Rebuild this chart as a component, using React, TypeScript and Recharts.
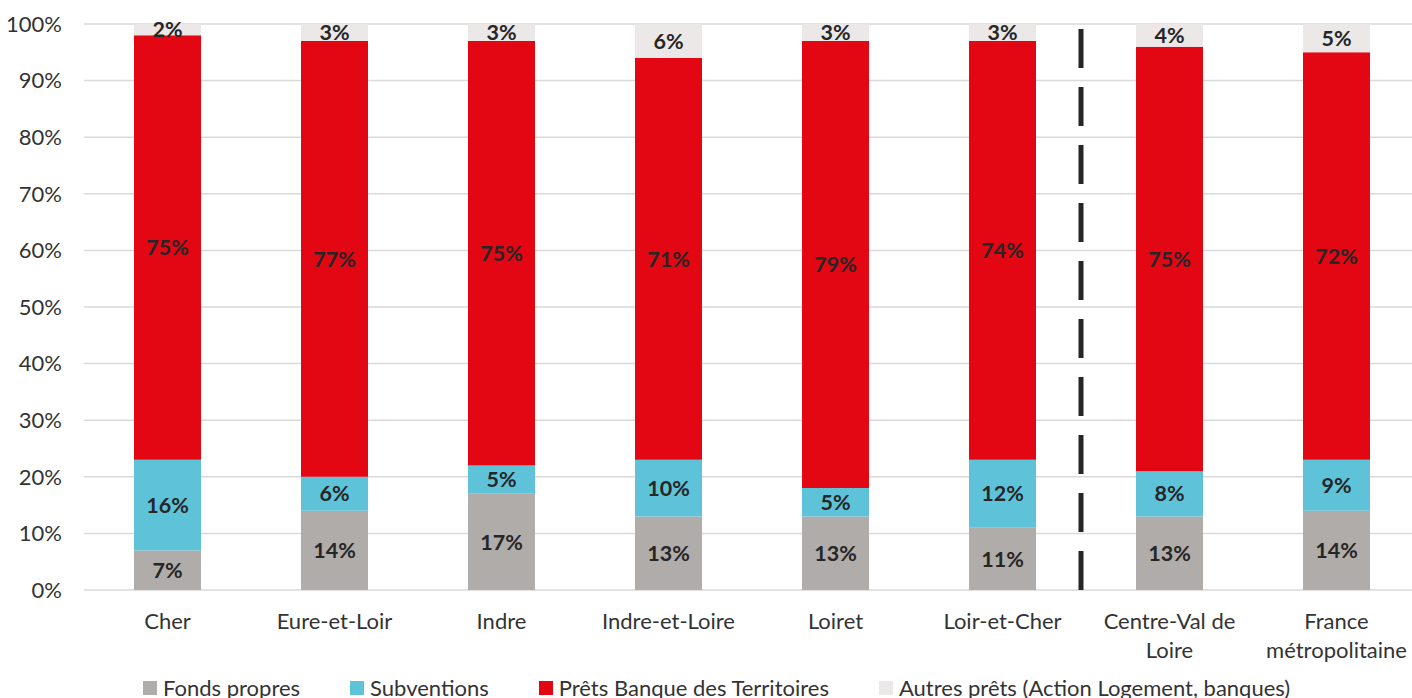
import React from "react"
import {
  BarChart,
  Bar,
  XAxis,
  YAxis,
  CartesianGrid,
  Legend,
  LabelList,
  ReferenceLine,
} from "recharts"

// tick labels, one entry per category, split where the reference wraps
const tickLines = [
  ["Cher"],
  ["Eure-et-Loir"],
  ["Indre"],
  ["Indre-et-Loire"],
  ["Loiret"],
  ["Loir-et-Cher"],
  ["Centre-Val de", "Loire"],
  ["France", "métropolitaine"],
]
const categories = tickLines.map((l) => l.join(" "))
const fondsPropres = [7, 14, 17, 13, 13, 11, 13, 14]
const subventions = [16, 6, 5, 10, 5, 12, 8, 9]
const pretsBanque = [75, 77, 75, 71, 79, 74, 75, 72]
const autresPrets = [2, 3, 3, 6, 3, 3, 4, 5]
const yTicks = [0, 10, 20, 30, 40, 50, 60, 70, 80, 90, 100]

const series = [
  { key: "fonds", name: "Fonds propres", color: "#B0ACA9" },
  { key: "subv", name: "Subventions", color: "#5EC3D9" },
  { key: "prets", name: "Prêts Banque des Territoires", color: "#E30613" },
  { key: "autres", name: "Autres prêts (Action Logement, banques)", color: "#ECE8E8" },
]

const data = categories.map((name, i) => ({
  name,
  fonds: fondsPropres[i],
  subv: subventions[i],
  prets: pretsBanque[i],
  autres: autresPrets[i],
}))

const FONT = "Lato, 'Open Sans', sans-serif"

function XTick(props: any) {
  const { x, y, payload } = props
  const lines = tickLines[categories.indexOf(payload.value)] || [payload.value]
  return (
    <text
      x={x}
      y={y + 15}
      textAnchor="middle"
      style={{ fontFamily: FONT, fontSize: 22, fill: "#333" }}
    >
      {lines.map((line, i) => (
        <tspan key={i} x={x} dy={i === 0 ? "0.71em" : 29}>
          {line}
        </tspan>
      ))}
    </text>
  )
}

function LegendContent() {
  return (
    <div
      style={{
        height: 30,
        paddingTop: 9,
        boxSizing: "border-box",
        display: "flex",
        alignItems: "center",
        paddingLeft: 143,
        fontFamily: FONT,
        fontSize: 22,
        color: "#333",
        whiteSpace: "nowrap",
      }}
    >
      {series.map((s) => (
        <div key={s.key} style={{ display: "flex", alignItems: "center", marginRight: 50 }}>
          <span style={{ width: 14, height: 14, background: s.color, marginRight: 6, display: "inline-block" }} />
          <span>{s.name}</span>
        </div>
      ))}
    </div>
  )
}

export default function App() {
  return (
    <div style={{ position: "absolute", left: 0, top: 0, width: 1412, height: 698, overflow: "hidden" }}>
      <BarChart
        width={1420}
        height={698}
        data={data}
        margin={{ top: 24, right: 0, bottom: 0, left: 0 }}
        barSize={67}
      >
        <CartesianGrid vertical={false} stroke="#D9D9D9" strokeWidth={1.5} />
        <XAxis
          dataKey="name"
          axisLine={false}
          tickLine={false}
          height={78}
          interval={0}
          tick={<XTick />}
        />
        <YAxis
          domain={[0, 100]}
          ticks={yTicks}
          width={84}
          axisLine={false}
          tickLine={false}
          tickMargin={16}
          tickFormatter={(v) => `${v}%`}
          tick={{ fontFamily: FONT, fontSize: 22, fill: "#333" }}
        />
        <ReferenceLine
          x="Loir-et-Cher"
          position="end"
          stroke="#262626"
          strokeWidth={5}
          strokeDasharray="39 19"
          shape={(p: any) => (
            <line
              x1={p.x1 - 5}
              x2={p.x2 - 5}
              y1={p.y1}
              y2={p.y2}
              stroke="#262626"
              strokeWidth={5}
              strokeDasharray="39 19"
            />
          )}
        />
        {series.map((s) => (
          <Bar
            key={s.key}
            dataKey={s.key}
            name={s.name}
            stackId="a"
            fill={s.color}
            isAnimationActive={false}
          >
            <LabelList
              dataKey={s.key}
              position="center"
              formatter={(v: any) => `${v}%`}
              style={{ fontFamily: FONT, fontSize: 21.5, fontWeight: 700, fill: "#262626" }}
            />
          </Bar>
        ))}
        <Legend verticalAlign="bottom" align="left" height={30} content={<LegendContent />} />
      </BarChart>
    </div>
  )
}
